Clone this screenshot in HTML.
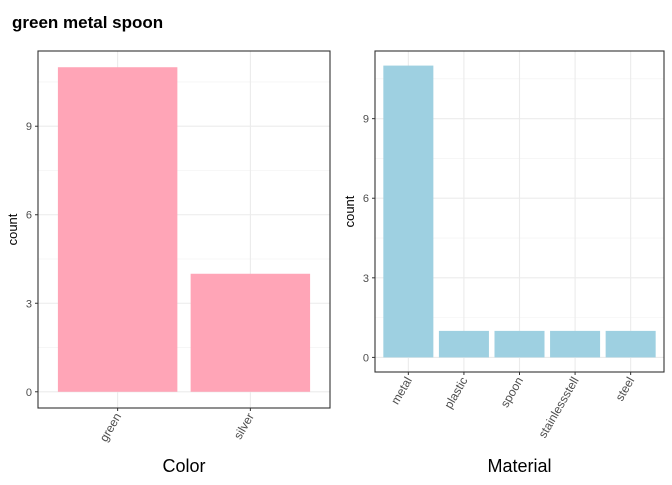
<!DOCTYPE html>
<html><head><meta charset="utf-8"><style>
body{margin:0;background:#fff;font-family:"Liberation Sans",sans-serif}
</style></head><body>
<svg id="c" width="672" height="480" font-family="Liberation Sans, sans-serif">
<rect width="672" height="480" fill="#fff"/>
<text x="12" y="28" font-size="17" font-weight="bold" fill="#000">green metal spoon</text>
</svg>
<script>
const colorCats=["green","silver"];
const colorVals=[11,4];
const matCats=["metal","plastic","spoon","stainlessstell","steel"];
const matVals=[11,1,1,1,1];
const yTicks=[0,3,6,9];
const svg=document.getElementById('c');
const NS='http://www.w3.org/2000/svg';
function mk(t,a,p){const e=document.createElementNS(NS,t);for(const k in a)e.setAttribute(k,a[k]);(p||svg).appendChild(e);return e;}
function panel(name,cats,vals,L,R,T,B,fill,xtitle,xtitleY){
  const g=mk('g',{});
  
  
  const ymin=-0.05*Math.max(...vals), ymax=Math.max(...vals)*1.05;
  const y=v=>B-(v-ymin)/(ymax-ymin)*(B-T);
  const n=cats.length, bw=(R-L)/(n+0.2);
  const x=i=>L+bw*(0.6+i);
  for(let i=0;i<yTicks.length;i++){const v=yTicks[i]+1.5;if(v<ymax)mk('line',{x1:L,x2:R,y1:y(v),y2:y(v),stroke:'#f0f0f0','stroke-width':0.6},g);}
  yTicks.forEach(v=>mk('line',{x1:L,x2:R,y1:y(v),y2:y(v),stroke:'#ebebeb','stroke-width':1.1},g));
  cats.forEach((c,i)=>mk('line',{x1:x(i),x2:x(i),y1:T,y2:B,stroke:'#ebebeb','stroke-width':1.1},g));
  vals.forEach((v,i)=>{const r=mk('rect',{x:x(i)-bw*0.45,width:bw*0.9,y:y(v),height:y(0)-y(v),fill:fill},g);
    
    });
  mk('rect',{x:L,y:T,width:R-L,height:B-T,fill:'none',stroke:'#333','stroke-width':1.1},g);
  yTicks.forEach(v=>{mk('line',{x1:L-3,x2:L,y1:y(v),y2:y(v),stroke:'#333'},g);
    const t=mk('text',{x:L-6,y:y(v)+4,'font-size':11,fill:'#4d4d4d','text-anchor':'end'},g);t.textContent=v;
    });
  cats.forEach((c,i)=>{mk('line',{x1:x(i),x2:x(i),y1:B,y2:B+3,stroke:'#333'},g);
    const t=mk('text',{transform:`translate(${x(i)+4},${B+8}) rotate(-60)`,'font-size':12,fill:'#4d4d4d','text-anchor':'end'},g);t.textContent=c;
    });
  const yt=mk('text',{transform:`translate(${L-21},${(T+B)/2}) rotate(-90)`,'font-size':13,'text-anchor':'middle',fill:'#000'},g);yt.textContent='count';
  
  const xt=mk('text',{x:(L+R)/2,y:xtitleY,'font-size':18,'text-anchor':'middle',fill:'#000'},g);xt.textContent=xtitle;
  
}
panel('color',colorCats,colorVals,38,330,51,408,'#ffa5b7','Color',472);
panel('material',matCats,matVals,375,664,51,372,'#9ed0e1','Material',472);
</script>
</body></html>
